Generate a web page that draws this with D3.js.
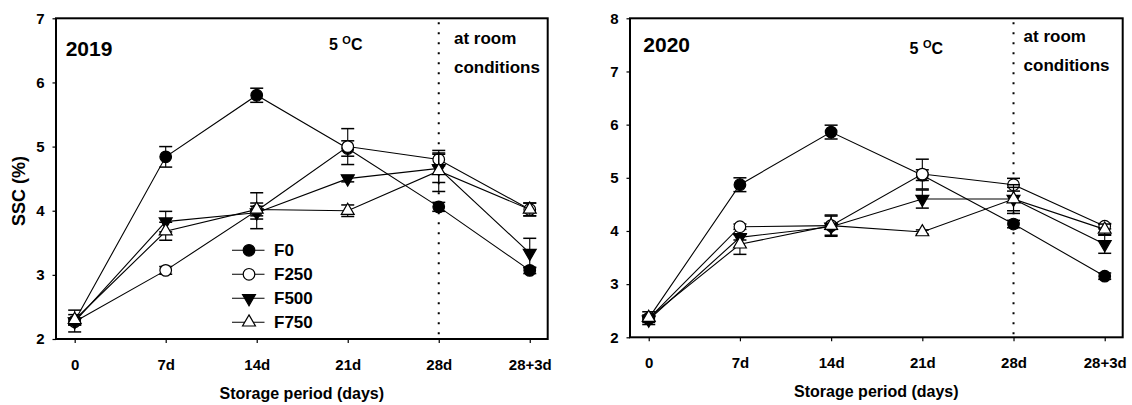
<!DOCTYPE html>
<html>
<head>
<meta charset="utf-8">
<script src="https://cdn.jsdelivr.net/npm/d3@7"></script>
<style>
  body { margin: 0; background: #fff; }
  svg { display: block; font-family: 'Liberation Sans', Arial, sans-serif; font-weight: bold; }
  .tick text { font-size: 15px; font-weight: bold; fill: #000; }
  .tick line { stroke: #000; stroke-width: 1.2; }
</style>
</head>
<body>
<svg id="chart" width="1132" height="405"></svg>
<script>
const categories = ['0', '7d', '14d', '21d', '28d', '28+3d']
const seriesNames = ['F0', 'F250', 'F500', 'F750']

// 2019 means and error bars
const f0_2019 = [2.28, 4.84, 5.80, 4.97, 4.06, 3.07]
const f0_2019_se = [0.17, 0.16, 0.11, 0.12, 0.07, 0.05]
const f250_2019 = [2.27, 3.07, 4.00, 5.00, 4.80, 4.02]
const f250_2019_se = [0.05, 0.06, 0.28, 0.28, 0.10, 0.10]
const f500_2019 = [2.27, 3.83, 3.97, 4.50, 4.66, 3.34]
const f500_2019_se = [0.05, 0.16, 0.10, 0.05, 0.22, 0.23]
const f750_2019 = [2.30, 3.68, 4.02, 4.00, 4.62, 4.02]
const f750_2019_se = [0.08, 0.14, 0.10, 0.09, 0.32, 0.10]

// 2020 means and error bars
const f0_2020 = [2.36, 4.87, 5.86, 5.05, 4.13, 3.15]
const f0_2020_se = [0.12, 0.13, 0.13, 0.10, 0.07, 0.06]
const f250_2020 = [2.35, 4.08, 4.10, 5.07, 4.87, 4.09]
const f250_2020_se = [0.05, 0.05, 0.20, 0.28, 0.12, 0.05]
const f500_2020 = [2.33, 3.88, 4.08, 4.60, 4.60, 3.75]
const f500_2020_se = [0.05, 0.05, 0.05, 0.17, 0.22, 0.17]
const f750_2020 = [2.37, 3.75, 4.10, 3.98, 4.60, 4.03]
const f750_2020_se = [0.05, 0.19, 0.18, 0.04, 0.27, 0.10]

const yTicks2019 = [2, 3, 4, 5, 6, 7]
const yTicks2020 = [2, 3, 4, 5, 6, 7, 8]

const markerStyle = {
  F0:   { shape: 'circle', fill: '#000' },
  F250: { shape: 'circle', fill: '#fff' },
  F500: { shape: 'down',   fill: '#000' },
  F750: { shape: 'up',     fill: '#fff' }
}

const panels = [
  {
    label: '2019', left: 56, top: 18.3, width: 491.7, height: 320.7,
    yDomain: [2, 7], yTicks: yTicks2019, yTitle: 'SSC (%)',
    means: [f0_2019, f250_2019, f500_2019, f750_2019],
    errs:  [f0_2019_se, f250_2019_se, f500_2019_se, f750_2019_se],
    labelPos: [9.7, 38], tempPos: [273, 32], roomPos: [398, 25.5], legend: true
  },
  {
    label: '2020', left: 630, top: 18.3, width: 492.7, height: 319,
    yDomain: [2, 8], yTicks: yTicks2020, yTitle: null,
    means: [f0_2020, f250_2020, f500_2020, f750_2020],
    errs:  [f0_2020_se, f250_2020_se, f500_2020_se, f750_2020_se],
    labelPos: [13.3, 34], tempPos: [279.6, 36], roomPos: [393.6, 23.5], legend: false
  }
]

const svg = d3.select('#chart')

function drawMarker (sel, name, cx, cy) {
  const st = markerStyle[name]
  if (st.shape === 'circle') {
    sel.append('circle')
      .attr('cx', cx).attr('cy', cy).attr('r', 5.8)
      .attr('fill', st.fill).attr('stroke', '#000').attr('stroke-width', 1.2)
  } else {
    sel.append('path')
      .attr('d', d3.symbol(d3.symbolTriangle, 72)())
      .attr('transform', `translate(${cx},${cy})` + (st.shape === 'down' ? ' rotate(180)' : ''))
      .attr('fill', st.fill).attr('stroke', '#000').attr('stroke-width', 1.2)
  }
}

function renderPanel (p) {
  const g = svg.append('g').attr('transform', `translate(${p.left},${p.top})`)

  const x = d3.scaleLinear()
    .domain([0, categories.length - 1])
    .range([p.width * 0.038, p.width * 0.9635])
  const y = d3.scaleLinear().domain(p.yDomain).range([p.height, 0])

  // axes
  g.append('g')
    .attr('transform', `translate(0,${p.height})`)
    .call(d3.axisBottom(x).tickValues(d3.range(categories.length))
      .tickFormat(i => categories[i]).tickSize(4).tickSizeOuter(0).tickPadding(16))
    .call(ax => ax.select('.domain').remove())

  g.append('g')
    .call(d3.axisLeft(y).tickValues(p.yTicks).tickFormat(d3.format('d'))
      .tickSize(3.5).tickSizeOuter(0).tickPadding(8))
    .call(ax => ax.select('.domain').remove())

  // dotted divider at 28d
  g.append('line')
    .attr('x1', x(4)).attr('x2', x(4))
    .attr('y1', 4).attr('y2', p.height)
    .attr('stroke', '#000').attr('stroke-width', 2)
    .attr('stroke-dasharray', '2,8')

  // series
  const line = d3.line().x((d, i) => x(i)).y(d => y(d))
  seriesNames.forEach((name, s) => {
    const vals = p.means[s]
    const errs = p.errs[s]
    g.append('path')
      .datum(vals)
      .attr('d', line)
      .attr('fill', 'none').attr('stroke', '#000').attr('stroke-width', 1.1)

    const eb = g.append('g').attr('stroke', '#000').attr('stroke-width', 1.5)
    vals.forEach((v, i) => {
      const cx = x(i)
      const hi = y(v + errs[i])
      const lo = y(v - errs[i])
      eb.append('line').attr('x1', cx).attr('x2', cx).attr('y1', hi).attr('y2', lo).attr('stroke-width', 1.1)
      eb.append('line').attr('x1', cx - 6.5).attr('x2', cx + 6.5).attr('y1', hi).attr('y2', hi)
      eb.append('line').attr('x1', cx - 6.5).attr('x2', cx + 6.5).attr('y1', lo).attr('y2', lo)
    })

    const mk = g.append('g')
    vals.forEach((v, i) => drawMarker(mk, name, x(i), y(v)))
  })

  // frame
  g.append('rect')
    .attr('width', p.width).attr('height', p.height)
    .attr('fill', 'none').attr('stroke', '#000').attr('stroke-width', 2)

  // annotations
  g.append('text')
    .attr('x', p.labelPos[0]).attr('y', p.labelPos[1])
    .attr('font-size', 21).text(p.label)

  const temp = g.append('text')
    .attr('x', p.tempPos[0]).attr('y', p.tempPos[1])
    .attr('font-size', 16)
  temp.append('tspan').text('5 ')
  temp.append('tspan').attr('font-size', 11).attr('dy', -6).text('O')
  temp.append('tspan').attr('dy', 6).text('C')

  g.append('text')
    .attr('x', p.roomPos[0]).attr('y', p.roomPos[1])
    .attr('font-size', 17).text('at room')
  g.append('text')
    .attr('x', p.roomPos[0]).attr('y', p.roomPos[1] + 29.5)
    .attr('font-size', 17).text('conditions')

  // axis titles
  g.append('text')
    .attr('x', p.width / 2).attr('y', p.height + 60)
    .attr('text-anchor', 'middle').attr('font-size', 16)
    .text('Storage period (days)')

  if (p.yTitle) {
    g.append('text')
      .attr('transform', `translate(${25 - p.left},${191 - p.top}) rotate(-90)`)
      .attr('text-anchor', 'middle').attr('font-size', 18)
      .text(p.yTitle)
  }

  if (p.legend) {
    const lg = g.append('g').attr('transform', 'translate(176,232)')
    seriesNames.forEach((name, s) => {
      const ry = s * 24
      lg.append('line')
        .attr('x1', 0).attr('x2', 32.5).attr('y1', ry).attr('y2', ry)
        .attr('stroke', '#000').attr('stroke-width', 1.1)
      drawMarker(lg, name, 17, ry)
      lg.append('text')
        .attr('x', 42).attr('y', ry).attr('dy', '0.36em')
        .attr('font-size', 17).text(name)
    })
  }
}

panels.forEach(renderPanel)
</script>
</body>
</html>
